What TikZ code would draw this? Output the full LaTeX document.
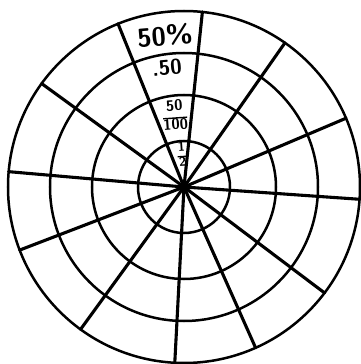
\documentclass[tikz,border=0pt]{standalone}
\usetikzlibrary{calc}
\tikzset{
  ring/.style={line width=2.5pt, black},
  spoke/.style={line width=3.1pt, black, line cap=round},
  ring_label/.style={font=\sffamily\bfseries, inner sep=0pt, rotate=5},
  frac_label/.style={font=\sffamily\bfseries, inner sep=0pt, rotate=4, align=center}
}

\begin{document}
\begin{tikzpicture}[x=1pt, y=1pt]
    \useasboundingbox (-184,-177) rectangle (176,187);
    \coordinate (ctr) at (0,0);

    % --- Rings ---
    \foreach \r in {46,92,134,176}
      \draw[ring] (ctr) circle (\r);

    % --- Spokes ---
    \foreach \a in {112,84,55,23,-4,-37,-66,-93,-126,-159,175,144}
      \draw[spoke] (ctr) -- ++(\a:176);

    % --- Labels in the top sector ---
    \node[ring_label, font=\sffamily\bfseries\fontsize{26}{28}\selectfont] (pct) at (-19,151) {50\%};
    \node[ring_label, font=\sffamily\bfseries\fontsize{21}{22}\selectfont] (dec) at (-17,119) {.50};
    \node[frac_label, font=\sffamily\bfseries\fontsize{15}{12}\selectfont] (hund) at (-9,72)
      {50\\[-4pt]\rule{24pt}{1.4pt}\\[-1pt]100};
    \node[frac_label, font=\sffamily\bfseries\fontsize{13}{10}\selectfont] (half) at (-2,33)
      {1\\[-4pt]\rule{9pt}{1.3pt}\\[-1pt]2};
\end{tikzpicture}
\end{document}
